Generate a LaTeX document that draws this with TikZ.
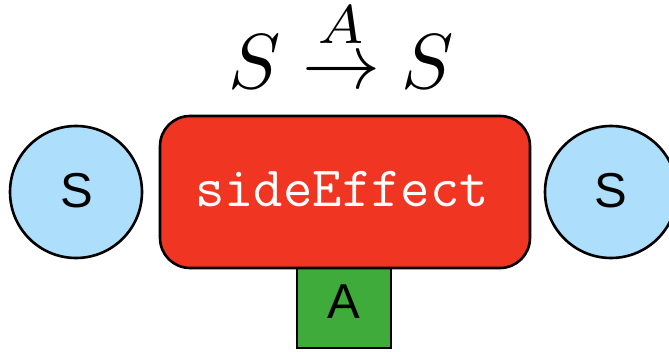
\documentclass[tikz,border=0pt]{standalone}
\usepackage{amsmath}
\usepackage{fontspec}
\newfontfamily\helv{Liberation Sans}
\definecolor{sred}{HTML}{F03523}
\definecolor{sblue}{HTML}{ADDFFD}
\definecolor{sgreen}{HTML}{3EAB3B}
\tikzset{
  stateball/.style={circle,draw=black,line width=2.6pt,fill=sblue,minimum size=132pt,inner sep=0pt},
  balltext/.style={anchor=base,inner sep=0pt,font=\helv\fontsize{49}{51}\selectfont},
  effectbox/.style={rectangle,rounded corners=30pt,draw=black,line width=2.6pt,fill=sred,minimum width=370pt,minimum height=152pt,inner sep=0pt},
  argbox/.style={rectangle,draw=black,line width=2.6pt,fill=sgreen,minimum width=94pt,minimum height=80pt,inner sep=0pt}
}
\begin{document}
\begin{tikzpicture}[x=1pt,y=1pt]
\useasboundingbox (0,0) rectangle (669,351);
\node[argbox] (arg) at (344,43) {};
\node[balltext] (argtext) at (344,33) {A};
\node[effectbox] (eff) at (345,159) {};
\node[anchor=base,inner sep=0pt,text=white,font=\ttfamily\fontsize{57}{59}\selectfont] (efftext) at (342,144) {sideEffect};
\node[stateball] (sl) at (76,159) {};
\node[balltext] (sltext) at (77,143) {S};
\node[stateball] (sr) at (611,159) {};
\node[balltext] (srtext) at (611,143) {S};
\node[anchor=base,inner sep=0pt,scale=7.8] (sig) at (341,263) {$S \stackrel{A}{\to} S$};
\end{tikzpicture}
\end{document}
